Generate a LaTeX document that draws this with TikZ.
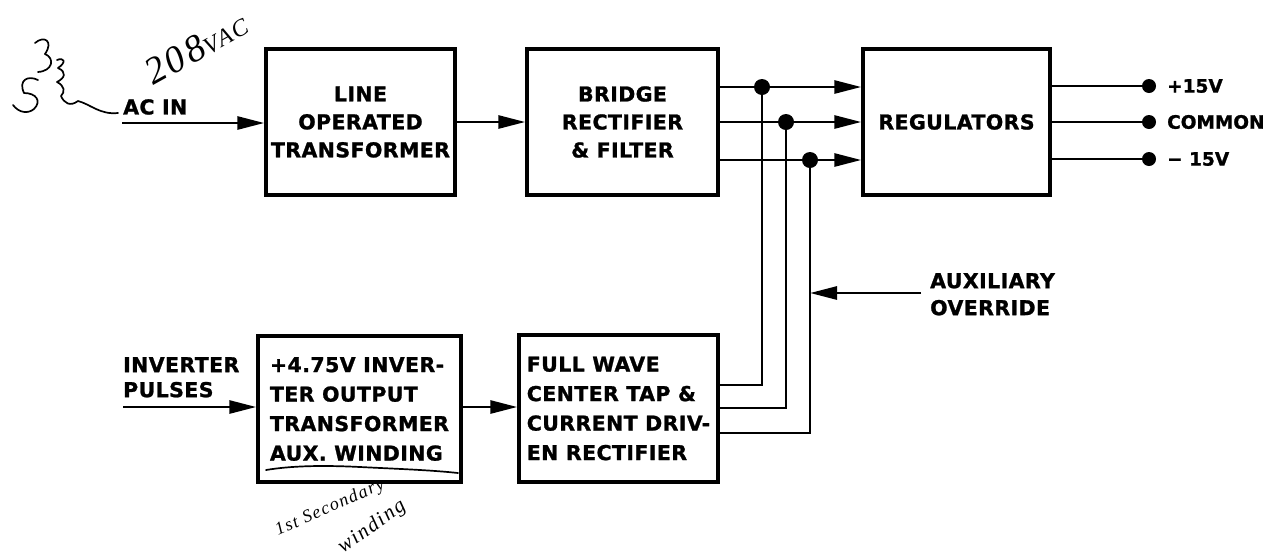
\documentclass[tikz,border=0pt]{standalone}
\usepackage{fontspec}
\usetikzlibrary{arrows.meta}
\setmainfont{DejaVu Sans}
\newfontfamily\blockfont[LetterSpace=2,BoldFeatures={FakeBold=1.2}]{DejaVu Sans}
\newfontfamily\termfont[BoldFeatures={FakeBold=1.2}]{DejaVu Sans}
\newfontfamily\handfont[LetterSpace=8]{Liberation Serif}
\newcommand\blk{\blockfont\bfseries\fontsize{20.5}{28}\selectfont}
\newcommand\blkwide{\blockfont\bfseries\fontsize{20.5}{29.5}\selectfont}
\begin{document}
\begin{tikzpicture}[x=1pt,y=-1pt,
  box/.style={draw,line width=3.4pt,inner sep=0pt,font=\blk},
  wire/.style={line width=2.8pt},
  thinwire/.style={line width=2.2pt},
  arr/.style={-{Triangle[length=27pt,width=13pt]}},
  jdot/.style={circle,fill,inner sep=0pt,minimum size=16pt},
  tdot/.style={circle,fill,inner sep=0pt,minimum size=14pt},
  lbl/.style={inner sep=0pt,font=\blk,align=left},
  tlbl/.style={inner sep=0pt,font=\termfont\bfseries\fontsize{18.5}{22}\selectfont},
  hand/.style={line width=1.7pt,line cap=round,line join=round},
  htext/.style={font=\handfont\itshape,inner sep=0pt}
]
\useasboundingbox (0,0) rectangle (1267,558);

% blocks
\node[box,minimum width=189pt,minimum height=146pt,align=center] (lot) at (360.5,122) {LINE\\OPERATED\\TRANSFORMER};
\node[box,minimum width=191pt,minimum height=146pt,align=center] (brg) at (622.5,122) {BRIDGE\\RECTIFIER\\\& FILTER};
\node[box,minimum width=187pt,minimum height=146pt] (reg) at (956.5,122) {REGULATORS};
\node[box,minimum width=203pt,minimum height=146pt,align=left,font=\blkwide] (aux) at (359.5,409) {+4.75V INVER-\\TER OUTPUT\\TRANSFORMER\\AUX. WINDING};
\node[box,minimum width=199pt,minimum height=147pt,align=left,font=\blkwide] (fwr) at (618.5,408.5) {FULL WAVE\\CENTER TAP \&\\CURRENT DRIV-\\EN RECTIFIER};

% coordinates
\coordinate (acin) at (122,123);
\coordinate (invp) at (123,407);
\coordinate (ovr) at (921,293);
\coordinate (b1) at (762,385);
\coordinate (b2) at (786,408);
\coordinate (b3) at (810,433);

% junction dots
\node[jdot] (j1) at (762,87) {};
\node[jdot] (j2) at (786,122) {};
\node[jdot] (j3) at (810,160) {};

% terminals
\node[tdot] (t1) at (1149,86) {};
\node[tdot] (t2) at (1149,122) {};
\node[tdot] (t3) at (1149,159) {};

% labels
\node[lbl,anchor=north west] (acl) at (123,99) {AC IN};
\node[lbl,anchor=north west,font=\blockfont\bfseries\fontsize{20.5}{25}\selectfont] (ipl) at (123,357) {INVERTER\\PULSES};
\node[lbl,anchor=north west,font=\blockfont\bfseries\fontsize{20.5}{27}\selectfont] (aol) at (930,273) {AUXILIARY\\OVERRIDE};
\node[tlbl,anchor=west] (l1) at (1167,86) {+15V};
\node[tlbl,anchor=west] (l2) at (1167,122) {COMMON};
\node[tlbl,anchor=west] (l3) at (1167,159) {− 15V};

% connectors
\draw[wire,arr] (acin) -- (acin -| lot.west);
\draw[wire,arr] (lot.east) -- (brg.west);
\draw[wire,arr] (brg.east |- j1) -- (reg.west |- j1);
\draw[wire,arr] (brg.east |- j2) -- (reg.west |- j2);
\draw[wire,arr] (brg.east |- j3) -- (reg.west |- j3);
\draw[thinwire] (j1.center) -- (b1) -- (b1 -| fwr.east);
\draw[thinwire] (j2.center) -- (b2) -- (b2 -| fwr.east);
\draw[thinwire] (j3.center) -- (b3) -- (b3 -| fwr.east);
\draw[wire,arr] (ovr) -- (ovr -| j3);
\draw[wire,arr] (invp) -- (invp -| aux.west);
\draw[wire,arr] (invp -| aux.east) -- (invp -| fwr.west);
\draw[wire] (reg.east |- t1) -- (t1);
\draw[wire] (reg.east |- t2) -- (t2);
\draw[wire] (reg.east |- t3) -- (t3);

% handwritten annotations
\node[htext,rotate=29] (v208) at (196,48) {{\fontsize{38}{38}\selectfont 208}{\fontsize{24}{24}\selectfont VAC}};
\node[htext,rotate=24] (sec) at (330,508) {\fontsize{18}{18}\selectfont 1st Secondary};
\node[htext,rotate=35] (wnd) at (372,527) {\fontsize{21}{21}\selectfont winding};
\draw[hand] (35,43) .. controls (44,35) and (54,41) .. (45,54) .. controls (55,58) and (53,71) .. (38,72);
\draw[hand] (57,60) .. controls (64,57) and (67,62) .. (58,68) .. controls (67,72) and (65,78) .. (57,82) .. controls (65,86) and (65,92) .. (61,96) .. controls (64,103) and (70,107) .. (78,101) .. controls (90,104) and (100,115) .. (118,113);
\draw[hand] (38,80) .. controls (28,75) and (18,80) .. (24,93) .. controls (36,93) and (42,101) .. (34,109) .. controls (28,114) and (19,113) .. (13,105);
\draw[hand] (266,470) .. controls (290,466) and (320,465) .. (360,467) .. controls (400,469) and (430,470) .. (458,473);
\end{tikzpicture}
\end{document}
